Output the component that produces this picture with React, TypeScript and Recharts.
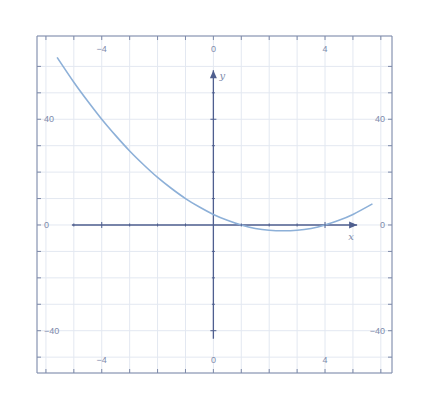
import { ComposedChart, Line, Scatter, XAxis, YAxis, CartesianGrid } from "recharts";

// curve
const curveX = [-5.6, -5, -4.5, -4, -3.5, -3, -2.5, -2, -1.5, -1, -0.5, 0, 0.5, 1, 1.5, 2, 2.5, 3, 3.5, 4, 4.5, 5, 5.7];
const curveY = [63.4, 54, 46.8, 40, 33.8, 28, 22.8, 18, 13.8, 10, 6.8, 4, 1.8, 0, -1.3, -2, -2.2, -2, -1.3, 0, 1.8, 4, 8];

const xDomain = [-6.32, 6.4];
const yDomain = [-56, 71.5];

const frameXTicks = [-6, -5, -4, -3, -2, -1, 0, 1, 2, 3, 4, 5, 6];
const frameYTicks = [-50, -40, -30, -20, -10, 0, 10, 20, 30, 40, 50, 60];
const labelledX = [-4, 0, 4];
const labelledY = [-40, 0, 40];

const xAxisSpan = [-5.07, 5.15];
const yAxisSpan = [-43, 58.5];
const axisXTicks = [-5, -4, -3, -2, -1, 1, 2, 3, 4, 5];
const axisYTicks = [-40, -30, -20, -10, 10, 20, 30, 40, 50];

const curve = curveX.map((x, i) => ({ x, y: curveY[i] }));
const xAxisLine = xAxisSpan.map((x) => ({ x, y: 0 }));
const yAxisLine = yAxisSpan.map((y) => ({ x: 0, y }));
const xTickMarks = axisXTicks.map((x) => ({ x, y: 0 }));
const yTickMarks = axisYTicks.map((y) => ({ x: 0, y }));

const FRAME = "#7d89a8";
const AXIS = "#4f5f8f";
const GRID = "#e3e8f1";
const CURVE = "#8db0d8";
const LABEL = "#7e8aab";

const tickStyle = { fill: LABEL, fontSize: 9, fontFamily: "Liberation Sans, Arial, sans-serif" };
const fmtX = (v: number) => (labelledX.includes(v) ? String(v).replace("-", "−") : "");
const fmtY = (v: number) => (labelledY.includes(v) ? String(v).replace("-", "−") : "");

const XTick = (p: any) => {
  const big = labelledX.includes(p.payload.x);
  const s = big ? 3 : 1.5;
  return <line x1={p.cx} x2={p.cx} y1={p.cy - s} y2={p.cy + s} stroke={AXIS} strokeWidth={1} />;
};
const YTick = (p: any) => {
  const big = labelledY.includes(p.payload.y);
  const s = big ? 3 : 1.5;
  return <line x1={p.cx - s} x2={p.cx + s} y1={p.cy} y2={p.cy} stroke={AXIS} strokeWidth={1} />;
};
const XArrow = (p: any) =>
  p.payload.x === xAxisSpan[1] ? (
    <g>
      <polygon points={`${p.cx},${p.cy} ${p.cx - 8},${p.cy - 3.5} ${p.cx - 8},${p.cy + 3.5}`} fill={AXIS} />
      <text x={p.cx - 6} y={p.cy + 15} fill={LABEL} fontSize={10} fontStyle="italic" fontFamily="DejaVu Serif, serif" textAnchor="middle">x</text>
    </g>
  ) : (
    <g />
  );
const YArrow = (p: any) =>
  p.payload.y === yAxisSpan[1] ? (
    <g>
      <polygon points={`${p.cx},${p.cy} ${p.cx - 3.5},${p.cy + 8} ${p.cx + 3.5},${p.cy + 8}`} fill={AXIS} />
      <text x={p.cx + 6} y={p.cy + 9} fill={LABEL} fontSize={10} fontStyle="italic" fontFamily="DejaVu Serif, serif">y</text>
    </g>
  ) : (
    <g />
  );

export default function App() {
  return (
    <div style={{ position: "absolute", left: 0, top: 0 }}>
      <ComposedChart width={429} height={410} margin={{ top: 36, right: 37, bottom: 37, left: 37 }}>
        <CartesianGrid stroke={GRID} strokeWidth={1} />
        <XAxis xAxisId={0} type="number" dataKey="x" domain={xDomain} ticks={frameXTicks} allowDataOverflow
          orientation="bottom" mirror tickFormatter={fmtX} tick={tickStyle} tickSize={4} tickMargin={6}
          stroke={FRAME} interval={0} />
        <XAxis xAxisId="top" type="number" dataKey="x" domain={xDomain} ticks={frameXTicks} allowDataOverflow
          orientation="top" mirror tickFormatter={fmtX} tick={tickStyle} tickSize={4} tickMargin={6}
          stroke={FRAME} interval={0} />
        <YAxis yAxisId={0} type="number" dataKey="y" domain={yDomain} ticks={frameYTicks} allowDataOverflow
          orientation="left" mirror tickFormatter={fmtY} tick={tickStyle} tickSize={4} tickMargin={3}
          stroke={FRAME} interval={0} />
        <YAxis yAxisId="right" type="number" dataKey="y" domain={yDomain} ticks={frameYTicks} allowDataOverflow
          orientation="right" mirror tickFormatter={fmtY} tick={tickStyle} tickSize={4} tickMargin={3}
          stroke={FRAME} interval={0} />
        <Line data={xAxisLine} dataKey="y" stroke={AXIS} strokeWidth={1.3} dot={XArrow} activeDot={false} isAnimationActive={false} />
        <Line data={yAxisLine} dataKey="y" stroke={AXIS} strokeWidth={1.3} dot={YArrow} activeDot={false} isAnimationActive={false} />
        <Scatter data={xTickMarks} dataKey="y" shape={XTick} isAnimationActive={false} />
        <Scatter data={yTickMarks} dataKey="y" shape={YTick} isAnimationActive={false} />
        <Line data={curve} dataKey="y" type="natural" stroke={CURVE} strokeWidth={1.6} dot={false} activeDot={false} isAnimationActive={false} />
      </ComposedChart>
    </div>
  );
}
